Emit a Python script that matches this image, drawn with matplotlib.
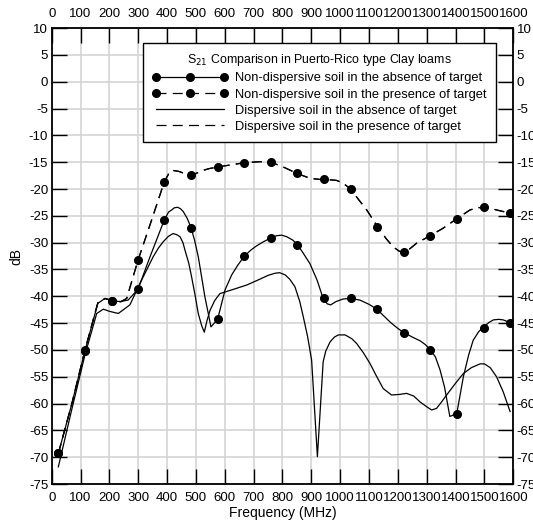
import matplotlib.pyplot as plt
from matplotlib.lines import Line2D
import numpy as np

plt.rcParams['font.family'] = ['Liberation Sans', 'DejaVu Sans']
plt.rcParams['axes.unicode_minus'] = False

# non-dispersive soil, absence of target (curve)
nda_f = [23, 70, 115, 160, 185, 208, 237, 265, 299, 341, 390, 405, 416, 425, 437, 447, 456, 470,
         483, 495, 508, 520, 531, 542, 552, 575, 601, 624, 645, 668, 690, 710, 735, 760, 780,
         797, 815, 835, 851, 870, 895, 920, 941, 955, 967, 985, 1010, 1035, 1068, 1100, 1127,
         1150, 1175, 1200, 1219, 1250, 1277, 1295, 1311, 1330, 1346, 1362, 1380, 1404, 1427,
         1445, 1461, 1480, 1496, 1515, 1531, 1550, 1565, 1589]
nda_db = [-69.3, -60, -50.2, -41.3, -40.4, -40.8, -41.0, -40.7, -38.7, -32.6, -25.8, -24.3,
          -23.9, -23.5, -23.4, -23.7, -24.2, -25.5, -27.2, -29.5, -32.6, -36.5, -40.1, -43.0,
          -45.7, -44.3, -38.8, -36.0, -34.2, -32.5, -31.4, -30.6, -29.8, -29.1, -28.7, -28.6,
          -28.9, -29.5, -30.3, -31.8, -33.9, -37.0, -40.4, -41.4, -41.6, -41.0, -40.5, -40.4,
          -40.7, -41.5, -42.4, -43.6, -44.9, -46.0, -46.7, -47.6, -48.3, -49.0, -49.9, -51.3,
          -53.7, -57.0, -62.4, -61.9, -55.0, -51.0, -48.2, -46.6, -45.8, -44.9, -44.4, -44.3,
          -44.4, -44.9]

# non-dispersive soil, presence of target (curve)
ndp_f = [23, 70, 115, 160, 185, 208, 240, 260, 299, 345, 390, 405, 416, 440, 460, 483, 500, 520,
         545, 575, 620, 668, 722, 760, 803, 851, 895, 944, 970, 988, 1010, 1036, 1060, 1092,
         1129, 1160, 1184, 1205, 1220, 1240, 1265, 1312, 1357, 1405, 1450, 1475, 1497, 1520,
         1542, 1589]
ndp_db = [-69.3, -60, -50.1, -41.2, -40.4, -40.8, -41.0, -40.4, -33.3, -26, -18.7, -17.2, -16.5,
          -16.7, -17.1, -17.5, -17.1, -16.6, -16.2, -15.9, -15.5, -15.1, -14.9, -15.0, -15.9,
          -17.1, -18.0, -18.3, -18.3, -18.4, -18.9, -20.0, -21.7, -23.9, -27.0, -29.3, -30.8,
          -31.6, -31.8, -31.2, -30.1, -28.7, -27.3, -25.5, -23.9, -23.5, -23.4, -23.6, -23.9,
          -24.5]

# marker positions of the non-dispersive curves
mk_f = [23, 115, 208, 299, 390, 483, 575, 668, 760, 851, 944, 1036, 1128, 1220, 1312, 1405,
        1497, 1589]
mk_abs = [-69.3, -50.2, -40.8, -38.7, -25.8, -27.2, -44.3, -32.5, -29.1, -30.4, -40.4, -40.4,
          -42.4, -46.8, -50.0, -62.0, -45.9, -44.9]
mk_pres = [-69.3, -50.1, -40.8, -33.3, -18.7, -17.4, -15.9, -15.1, -15.0, -17.1, -18.2, -20.0,
           -27.0, -31.8, -28.7, -25.5, -23.4, -24.5]

# dispersive soil, absence of target
da_f = [23, 70, 115, 156, 179, 200, 231, 271, 306, 352, 370, 387, 405, 421, 433, 445, 455, 462,
        475, 485, 497, 508, 520, 529, 538, 549, 565, 583, 630, 676, 722, 750, 774, 790, 809,
        825, 843, 860, 872, 887, 901, 921, 941, 950, 965, 980, 994, 1017, 1040, 1057, 1080,
        1103, 1125, 1149, 1178, 1205, 1230, 1255, 1277, 1300, 1317, 1334, 1350, 1369, 1400,
        1427, 1455, 1485, 1500, 1520, 1542, 1565, 1589]
da_db = [-71.8, -61, -51, -43.2, -42.4, -42.8, -43.2, -41.6, -37.6, -32.6, -31.0, -29.8, -28.8,
         -28.3, -28.5, -28.9, -30.0, -31.4, -33.8, -36.4, -39.8, -43.2, -45.5, -46.7, -44.6,
         -42.6, -40.8, -39.5, -38.7, -37.9, -36.8, -36.1, -35.7, -35.6, -36.0, -36.8, -38.2,
         -41.0, -43.8, -47.5, -51.9, -69.9, -52.2, -50.2, -48.5, -47.6, -47.2, -47.2, -47.9,
         -48.8, -50.5, -52.5, -54.8, -57.2, -58.4, -58.3, -58.1, -58.6, -59.7, -60.6, -61.2,
         -60.9, -59.8, -58.4, -56.2, -54.4, -53.3, -52.6, -52.6, -53.3, -55.0, -57.8, -61.5]

# dispersive soil, presence of target (lies on the non-dispersive one)
dp_f = ndp_f
dp_db = ndp_db

fig = plt.figure(figsize=(5.33, 5.21), dpi=100)
ax = fig.add_axes([0.097, 0.071, 0.866, 0.875])

lw = 0.9
dash = (0, (8, 5))
ax.plot(nda_f, nda_db, color="black", lw=lw)
ax.plot(mk_f, mk_abs, 'o', color="black", ms=5.5)
ax.plot(ndp_f, ndp_db, color="black", lw=lw, linestyle=dash)
ax.plot(mk_f, mk_pres, 'o', color="black", ms=5.5)
ax.plot(da_f, da_db, color="black", lw=lw)
ax.plot(dp_f, dp_db, color="black", lw=lw, linestyle=dash)

ax.set_xlim(0, 1600)
ax.set_ylim(-75, 10)
xt = np.arange(0, 1601, 100)
yt = np.arange(-75, 11, 5)
ax.set_xticks(xt)
ax.set_yticks(yt)
ax.grid(True, color="#d4d4d4", lw=1.2)
ax.set_axisbelow(True)

ax.tick_params(direction="in", top=True, right=True, labeltop=True, labelright=True,
               length=6, width=1, color="black")
ax.tick_params(axis="x", pad=6)
ax.tick_params(axis="y", pad=2.5)
for t in ax.xaxis.get_major_ticks():
    big = (round(t.get_loc()) % 400 == 0)
    for lab in (t.label1, t.label2):
        lab.set_fontsize(9.5 if big else 6.5)
    if big:
        t.tick1line.set_markersize(11)
        t.tick2line.set_markersize(11)
for t in ax.yaxis.get_major_ticks():
    big = (round(t.get_loc()) % 20 == 0)
    for lab in (t.label1, t.label2):
        lab.set_fontsize(9.5 if big else 7)
    if big:
        t.tick1line.set_markersize(11)
        t.tick2line.set_markersize(11)

for s in ax.spines.values():
    s.set_linewidth(1.3)

ax.set_xlabel("Frequency (MHz)", fontsize=10, labelpad=1)
ax.set_ylabel("dB", fontsize=10, labelpad=4)

handles = [
    Line2D([], [], color="black", lw=lw, marker='o', ms=5.5),
    Line2D([], [], color="black", lw=lw, linestyle=dash, marker='o', ms=5.5),
    Line2D([], [], color="black", lw=lw),
    Line2D([], [], color="black", lw=lw, linestyle=dash),
]
labels = ["Non-dispersive soil in the absence of target",
          "Non-dispersive soil in the presence of target",
          "Dispersive soil in the absence of target",
          "Dispersive soil in the presence of target"]
leg = ax.legend(handles, labels, title="S$_{21}$ Comparison in Puerto-Rico type Clay loams",
                loc="upper left", bbox_to_anchor=(0.198, 0.967), borderaxespad=0,
                fontsize=9.3, title_fontsize=8.9, numpoints=3, handlelength=5.9,
                fancybox=False, framealpha=1, edgecolor="black", labelspacing=0.32,
                borderpad=0.7, handletextpad=0.55)
leg.get_frame().set_linewidth(1)

plt.savefig("out.png", dpi=100)
